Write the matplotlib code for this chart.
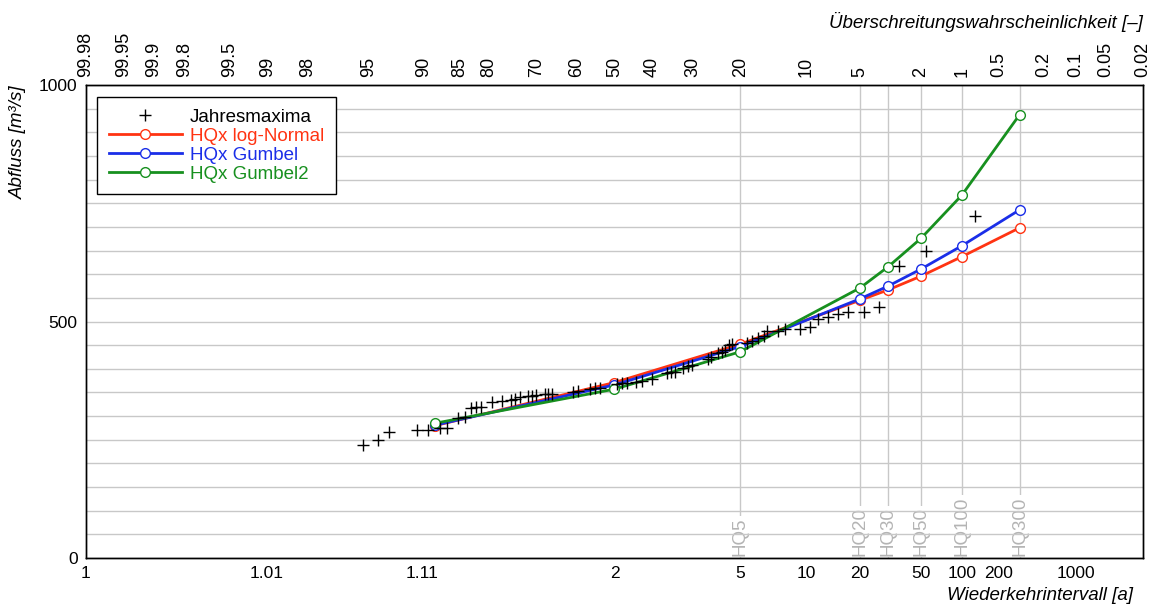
import numpy as np
import matplotlib
matplotlib.use('Agg')
import matplotlib.pyplot as plt
from matplotlib.ticker import MultipleLocator
from statistics import NormalDist

plt.rcParams['font.family'] = ['Liberation Sans', 'DejaVu Sans']

nd = NormalDist()


#Data
#Jahresmaxima: return period [a] and discharge [m3/s]
jm_T = [1.048, 1.060, 1.070, 1.103, 1.118, 1.138, 1.151, 1.173, 1.188, 1.202,
        1.215, 1.228, 1.260, 1.291, 1.323, 1.338, 1.358, 1.391, 1.409, 1.428,
        1.472, 1.489, 1.510, 1.641, 1.677, 1.770, 1.811, 1.857, 2.027, 2.083,
        2.144, 2.259, 2.342, 2.494, 2.759, 2.835, 2.918, 3.095, 3.212, 3.312,
        3.765, 3.860, 4.097, 4.241, 4.355, 4.515, 4.638, 5.333, 5.602, 5.942,
        6.313, 6.510, 7.315, 7.893, 9.337, 10.49, 11.57, 13.09, 14.88, 16.98,
        21.14, 26.18, 35.3, 54.1, 127]
jm_Q = [239, 249, 266, 271, 271, 275, 275, 296, 298, 317,
        319, 319, 330, 332, 334, 336, 340, 342, 342, 345,
        347, 347, 347, 351, 353, 357, 359, 359, 368, 370,
        370, 372, 374, 378, 391, 393, 393, 402, 406, 408,
        421, 425, 433, 436, 440, 450, 452, 455, 459, 465,
        469, 480, 480, 484, 484, 488, 505, 510, 516, 520,
        520, 531, 617, 649, 723]

#HQx curves
hq_T = [1.13, 2, 5, 20, 30, 50, 100, 300]
hq_lognormal = [280, 371, 452, 545, 567, 596, 637, 698]
hq_gumbel = [281, 366, 447, 548, 575, 611, 660, 736]
hq_gumbel2 = [285, 357, 436, 571, 616, 676, 767, 937]

#Marked return periods
hq_marks = [5, 20, 30, 50, 100, 300]

#Axis ticks
bottom_T = [1.01, 1.11, 2, 5, 10, 20, 50, 100, 200, 1000]
bottom_labels = ['1.01', '1.11', '2', '5', '10', '20', '50', '100', '200', '1000']
top_P = [99.98, 99.95, 99.9, 99.8, 99.5, 99, 98, 95, 90, 85, 80, 70, 60, 50,
         40, 30, 20, 10, 5, 2, 1, 0.5, 0.2, 0.1, 0.05, 0.02]
top_labels = ['99.98', '99.95', '99.9', '99.8', '99.5', '99', '98', '95', '90',
              '85', '80', '70', '60', '50', '40', '30', '20', '10', '5', '2',
              '1', '0.5', '0.2', '0.1', '0.05', '0.02']


#Normal probability scale
def t_to_x(T):
    return np.array([nd.inv_cdf(1 - 1 / t) for t in T])


def p_to_x(P):
    return np.array([nd.inv_cdf(1 - p / 100) for p in P])


xmin = nd.inv_cdf(0.0002)
xmax = nd.inv_cdf(0.9998)

red = '#ff3312'
blue = '#1a2ee8'
green = '#17901f'
grey = '#c8c8c8'

fig = plt.figure(figsize=(11.54, 6.08), dpi=100)
ax = fig.add_axes([86 / 1154, 1 - 558 / 608, 1057 / 1154, 473 / 608])

#Grid
ax.yaxis.set_major_locator(MultipleLocator(500))
ax.yaxis.set_minor_locator(MultipleLocator(50))
ax.grid(axis='y', which='both', color=grey, linewidth=1, zorder=0)
for T in hq_marks:
    xv = t_to_x([T])[0]
    ax.axvline(xv, color=grey, linewidth=1, zorder=0.5)
    ax.text(xv, 4, 'HQ' + str(T), rotation=90, ha='center', va='bottom',
            color='#b4b4b4', fontsize=13.5, zorder=1,
            bbox=dict(facecolor='white', edgecolor='none', pad=1))

#Scatter and curves
ax.plot(t_to_x(jm_T), jm_Q, linestyle='none', marker='+', color='black',
        markersize=8, markeredgewidth=1, label='Jahresmaxima', zorder=5)
for vals, c, lab in [(hq_lognormal, red, 'HQx log-Normal'),
                     (hq_gumbel, blue, 'HQx Gumbel'),
                     (hq_gumbel2, green, 'HQx Gumbel2')]:
    ax.plot(t_to_x(hq_T), vals, color=c, linewidth=2, marker='o',
            markersize=7, markerfacecolor='white', markeredgecolor=c,
            markeredgewidth=1, label=lab, zorder=4)

ax.set_xlim(xmin, xmax)
ax.set_ylim(0, 1000)

#Bottom axis
ax.set_xticks([xmin] + list(t_to_x(bottom_T)))
ax.set_xticklabels(['1'] + bottom_labels, fontsize=12.5)
ax.tick_params(axis='x', length=0, pad=6)
ax.tick_params(axis='y', which='both', length=0, pad=6, labelsize=12.5)

#Top axis
ax2 = ax.twiny()
ax2.set_xlim(xmin, xmax)
ax2.set_xticks(p_to_x(top_P))
ax2.set_xticklabels(top_labels, rotation=90, fontsize=13)
ax2.tick_params(axis='x', length=0, pad=6)

for a in [ax, ax2]:
    for s in a.spines.values():
        s.set_color('black')
        s.set_linewidth(1)

#Legend
leg = ax.legend(loc='upper left', bbox_to_anchor=(0.0104, 0.9746),
                borderaxespad=0, fontsize=13.5, fancybox=False,
                edgecolor='black', framealpha=1, handlelength=3.9,
                handletextpad=0.45, labelspacing=0.1, borderpad=0.62)
leg.get_frame().set_linewidth(1)
for txt, c in zip(leg.get_texts(), ['black', red, blue, green]):
    txt.set_color(c)

#Axis titles
fig.text(18 / 1154, 1 - 85 / 608, 'Abfluss [m³/s]', rotation=90, ha='center',
         va='top', fontsize=13.5, style='italic')
fig.text(1133 / 1154, 1 - 595 / 608, 'Wiederkehrintervall [a]', ha='right',
         va='center', fontsize=13.5, style='italic')
fig.text(1143 / 1154, 1 - 22 / 608, 'Überschreitungswahrscheinlichkeit [–]',
         ha='right', va='center', fontsize=13.5, style='italic')

fig.savefig('out.png', dpi=100)
